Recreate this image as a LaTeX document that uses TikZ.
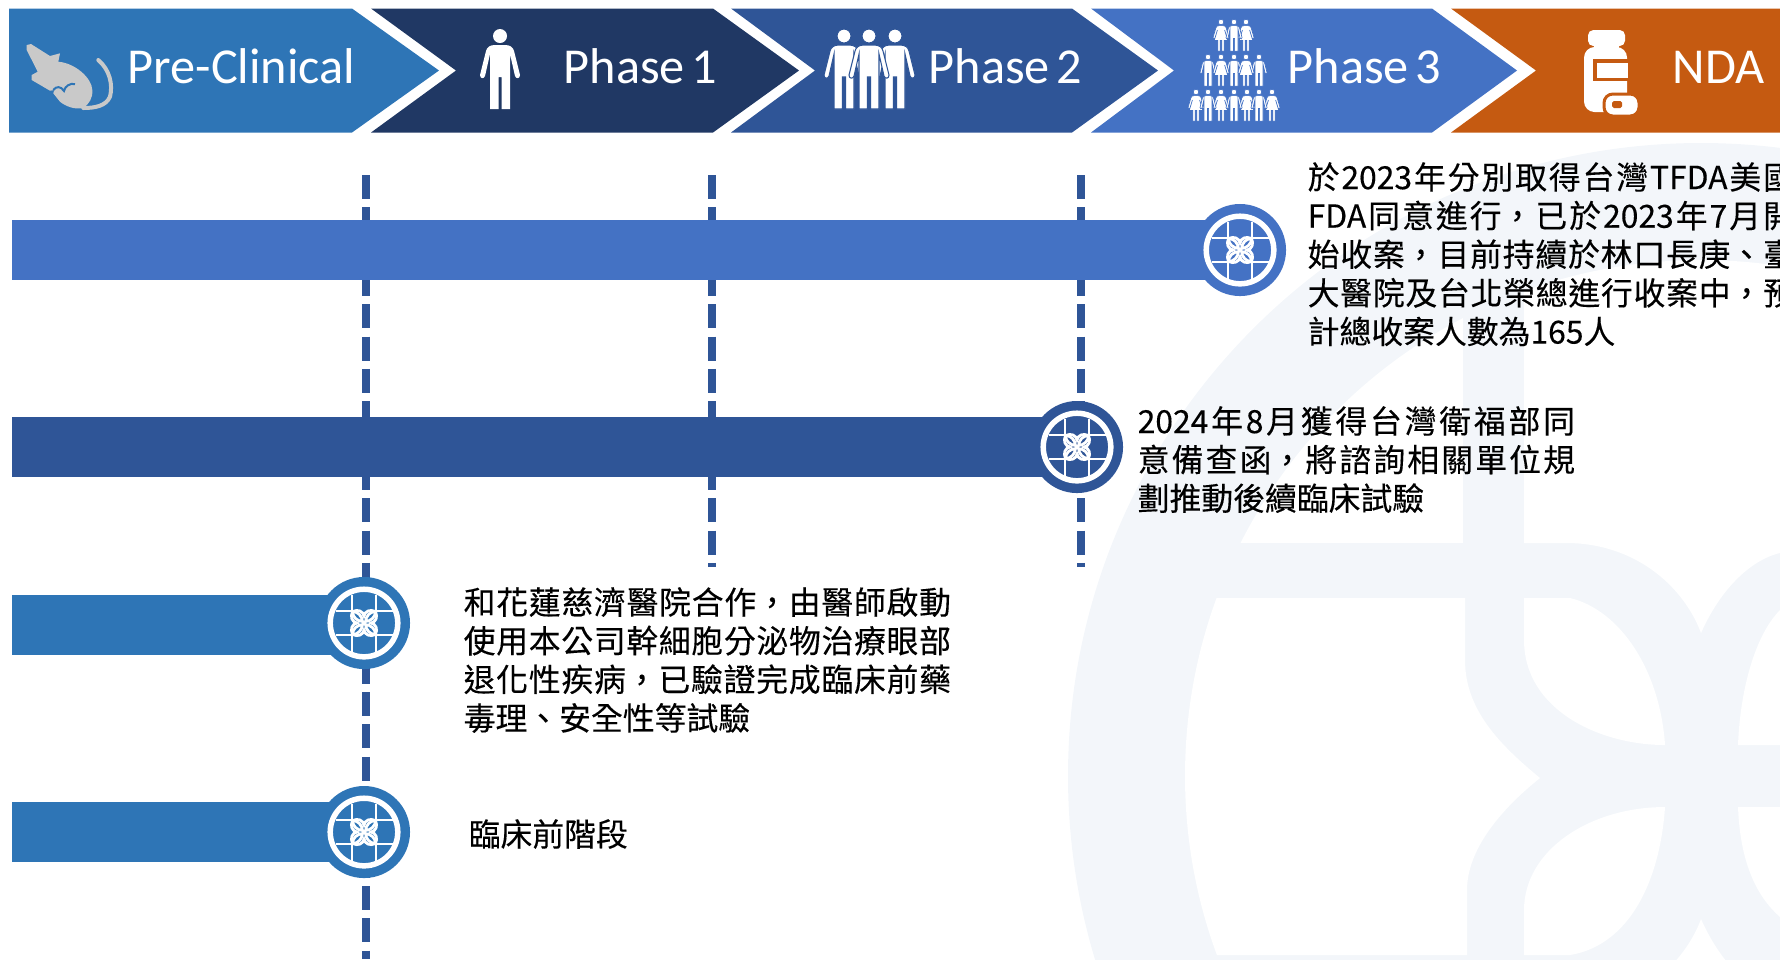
\documentclass[tikz,border=0pt]{standalone}
\usepackage{fontspec}
\usepackage{xcolor}
\setmainfont{Carlito}
\newfontfamily\cjkfont[FakeBold=0.25]{Noto Sans CJK TC}
\XeTeXlinebreaklocale "zh"
\XeTeXlinebreakskip=0pt plus 4pt
\definecolor{preclin}{HTML}{2E75B6}
\definecolor{phaseone}{HTML}{203864}
\definecolor{phasetwo}{HTML}{2F5597}
\definecolor{phasethree}{HTML}{4472C4}
\definecolor{ndacol}{HTML}{C55A11}
\definecolor{watermark}{HTML}{F3F6FA}
\definecolor{mousegray}{HTML}{C9C9C9}
\tikzset{
  phase/.style={
    anchor=base west,
    inner sep=0pt,
    text=white,
    font=\fontsize{14.3}{16}\selectfont
  },
  note/.style={
    anchor=north west,
    inner sep=0pt,
    align=justify,
    font=\cjkfont\fontsize{9.05}{10.98}\selectfont
  },
  hub/.style={
    circle,
    minimum size=0.92cm,
    inner sep=0pt
  },
  track/.style={line width=0.6cm},
  guide/.style={
    draw=phasetwo,
    line width=0.076cm,
    dash pattern=on 0.24cm off 0.083cm
  },
  crowd/.style={
    fill=white,
    draw=phasethree,
    line width=0.2pt,
    scale=0.4
  },
  man/.pic={
    \path[pic actions] (0,0) circle (7);
    \path[pic actions] (-5,9) -- (5,9) .. controls (10,9) and (13,11) .. (14,15)
      -- (20,39) .. controls (20,43) and (16,43) .. (15,40) -- (10,18) -- (10,73)
      -- (1.5,73) -- (1.5,41) -- (-1.5,41) -- (-1.5,73) -- (-10,73) -- (-10,18)
      -- (-15,40) .. controls (-16,43) and (-20,43) .. (-20,39) -- (-14,15)
      .. controls (-13,11) and (-10,9) .. (-5,9) -- cycle;
  },
  woman/.pic={
    \path[pic actions] (0,0) circle (7);
    \path[pic actions] (-5,9) -- (5,9) .. controls (10,9) and (12,11) .. (13,15)
      -- (20,39) .. controls (20,43) and (16,43) .. (15,40) -- (9,20) -- (17,46)
      -- (8,46) -- (8,73) -- (2,73) -- (2,46) -- (-2,46) -- (-2,73) -- (-8,73)
      -- (-8,46) -- (-17,46) -- (-9,20) -- (-15,40) .. controls (-16,43) and (-20,43) .. (-20,39)
      -- (-13,15) .. controls (-12,11) and (-10,9) .. (-5,9) -- cycle;
  },
  lattice/.pic={
    \draw[white,line width=0.055cm] (0,0) circle (33.8);
    \foreach \a in {0,90,180,270} {
      \begin{scope}[rotate=\a]
        \draw[white,line width=0.02cm] (-12,-28.5) -- (-12,-11);
        \draw[white,line width=0.02cm] (-28.5,-12) -- (-11,-12);
        \draw[white,line width=0.028cm] (-11.5,-11.5) .. controls (-6,-11.5) and (-2,-7) .. (-1.5,-1.5)
          .. controls (-7,-2) and (-11.5,-6) .. (-11.5,-11.5);
        \draw[white,line width=0.028cm] (-11.5,-11.5) .. controls (-6,-14) and (-1,-12) .. (0,-7)
          .. controls (1,-12) and (6,-14) .. (11.5,-11.5);
      \end{scope}
    }
  }
}

\begin{document}
\begin{tikzpicture}[x=0.01cm,y=-0.01cm]
  \useasboundingbox (0,0) rectangle (1780,959);
  \clip (0,0) rectangle (1780,959);

  % Watermark behind everything
  \fill[watermark] (1701,776) circle (633);
  \begin{scope}
    \clip (1701,776) circle (516);
    \fill[white] (1000,100) rectangle (1463,543);
    \fill[white] (1000,598) -- (1465,598) -- (1465,660) .. controls (1465,710) and (1500,745) .. (1540,778)
      .. controls (1500,810) and (1467,850) .. (1467,890) -- (1467,955) -- (1000,955) -- cycle;
    \fill[white] (1524,100) -- (1524,543) -- (1570,543) .. controls (1640,545) and (1685,590) .. (1701,633)
      .. controls (1720,590) and (1750,560) .. (1780,553) -- (1780,100) -- cycle;
    \fill[white] (1524,598) -- (1570,598) .. controls (1620,610) and (1660,670) .. (1665,745)
      .. controls (1600,745) and (1524,710) .. (1524,640) -- cycle;
    \fill[white] (1665,807) .. controls (1590,807) and (1524,850) .. (1524,910) -- (1524,955) -- (1570,955)
      .. controls (1630,945) and (1660,880) .. (1665,807) -- cycle;
    \fill[white] (1738,745) .. controls (1740,690) and (1755,635) .. (1780,610) -- (1780,745) -- cycle;
    \fill[white] (1738,807) -- (1780,807) -- (1780,917) .. controls (1755,895) and (1740,860) .. (1738,807) -- cycle;
    \fill[white] (1524,1009) -- (1570,1009) .. controls (1640,1007) and (1685,962) .. (1701,919)
      .. controls (1720,962) and (1750,992) .. (1780,999) -- (1780,1100) -- (1524,1100) -- cycle;
  \end{scope}

  % Phase banner
  \fill[preclin] (9,8.5) -- (352,8.5) -- (439,70.5) -- (352,132.5) -- (9,132.5) -- cycle;
  \fill[phaseone] (371,8.5) -- (713,8.5) -- (799,70.5) -- (713,132.5) -- (371,132.5) -- (456,70.5) -- cycle;
  \fill[phasetwo] (731,8.5) -- (1072,8.5) -- (1158,70.5) -- (1072,132.5) -- (731,132.5) -- (815,70.5) -- cycle;
  \fill[phasethree] (1091,8.5) -- (1432,8.5) -- (1517,70.5) -- (1432,132.5) -- (1091,132.5) -- (1174,70.5) -- cycle;
  \fill[ndacol] (1451,8.5) -- (1780,8.5) -- (1780,132.5) -- (1451,132.5) -- (1536,70.5) -- cycle;

  \node[phase] (preclinical) at (127,83) {Pre-Clinical};
  \node[phase] (phase1) at (563,83) {Phase\hspace{1.9pt}1};
  \node[phase] (phase2) at (928,83) {Phase\hspace{1.9pt}2};
  \node[phase] (phase3) at (1287,83) {Phase\hspace{1.9pt}3};
  \node[phase] (nda) at (1672,83) {NDA};

  % Mouse
  \fill[mousegray] (26.7,45) -- (31,44) -- (50,56) -- (60,53.3) -- (58.3,61.7)
    .. controls (75,63) and (92,78) .. (92.3,90) .. controls (93,98) and (89,104) .. (83.3,108)
    .. controls (75,110) and (65,106) .. (60,101.7) -- (53.3,93.3) -- (54.3,90) -- (50,90.7)
    -- (31.7,80) -- (31.7,75) -- (37.7,71.7) -- (26.7,50) -- cycle;
  \draw[preclin,line width=0.02cm] (53.3,90) .. controls (56,86) and (61,86) .. (64,91)
    .. controls (65,86) and (70,83) .. (75,84);
  \draw[mousegray,line width=0.04cm,line cap=round] (98.3,60) .. controls (110,70) and (113,85) .. (110,96.7)
    .. controls (106,106) and (95,108) .. (83.3,108);

  % Phase 1 to 3 people
  \pic[fill=white] at (500,36) {man};
  \foreach \x in {844,895,869}
    \pic[fill=white,draw=phasetwo,line width=0.3pt] at (\x,36) {man};
  \foreach \x in {1221,1246} \pic[crowd] at (\x,22) {woman};
  \pic[crowd] at (1234,22) {man};
  \foreach \x in {1208,1234,1259} \pic[crowd] at (\x,57) {man};
  \foreach \x in {1221,1246} \pic[crowd] at (\x,57) {woman};
  \foreach \x in {1196,1221,1247,1272} \pic[crowd] at (\x,92) {woman};
  \foreach \x in {1208,1234,1259} \pic[crowd] at (\x,92) {man};

  % Bottle and pill
  \fill[white,rounded corners=1.5pt] (1588,30) rectangle (1625,46);
  \fill[white] (1594,44) rectangle (1619,50);
  \fill[white,rounded corners=3pt] (1584,47) rectangle (1627,112);
  \fill[ndacol] (1593,59) rectangle (1628,81);
  \fill[white] (1597,63) rectangle (1628,78);
  \fill[white,draw=ndacol,line width=0.03cm,rounded corners=2.5pt] (1604,94) rectangle (1639,116);
  \fill[ndacol,rounded corners=0.5pt] (1612,101) rectangle (1622,108);

  % Dashed guides
  \coordinate (top1) at (366,175);
  \coordinate (top2) at (712,175);
  \coordinate (top3) at (1081,175);
  \coordinate (end1) at (366,959);
  \coordinate (end2) at (712,567);
  \coordinate (end3) at (1081,567);
  \draw[guide] (top1) -- (end1);
  \draw[guide] (top2) -- (end2);
  \draw[guide] (top3) -- (end3);

  % Tracks and hubs
  \coordinate (hubc1) at (1240,250);
  \coordinate (hubc2) at (1077,447);
  \coordinate (hubc3) at (364,623);
  \coordinate (hubc4) at (364,832);
  \coordinate (start1) at (12,250);
  \coordinate (start2) at (12,447);
  \coordinate (start3) at (12,625);
  \coordinate (start4) at (12,832);
  \coordinate (stop3) at (364,625);
  \draw[track,phasethree] (start1) -- (hubc1);
  \draw[track,phasetwo] (start2) -- (hubc2);
  \draw[track,preclin] (start3) -- (stop3);
  \draw[track,preclin] (start4) -- (hubc4);
  \node[hub,fill=phasethree] (hub1) at (hubc1) {};
  \node[hub,fill=phasetwo] (hub2) at (hubc2) {};
  \node[hub,fill=preclin] (hub3) at (hubc3) {};
  \node[hub,fill=preclin] (hub4) at (hubc4) {};
  \pic at (hubc1) {lattice};
  \pic at (hubc2) {lattice};
  \pic at (hubc3) {lattice};
  \pic at (hubc4) {lattice};

  % Notes
  \node[note,text width=4.87cm] (note1) at (1307,161.5) {於2023年分別取得台灣TFDA美國\linebreak FDA同意進行，已於2023年7月開\linebreak 始收案，目前持續於林口長庚、臺\linebreak 大醫院及台北榮總進行收案中，預\linebreak 計總收案人數為165人};
  \node[note,text width=4.37cm] (note2) at (1137,405.5) {2024年8月獲得台灣衛福部同\linebreak 意備查函，將諮詢相關單位規\linebreak 劃推動後續臨床試驗};
  \node[note,text width=4.87cm] (note3) at (463,586.5) {和花蓮慈濟醫院合作，由醫師啟動\linebreak 使用本公司幹細胞分泌物治療眼部\linebreak 退化性疾病，已驗證完成臨床前藥\linebreak 毒理、安全性等試驗};
  \node[note,text width=2cm] (note4) at (468,818.5) {臨床前階段};
\end{tikzpicture}
\end{document}
